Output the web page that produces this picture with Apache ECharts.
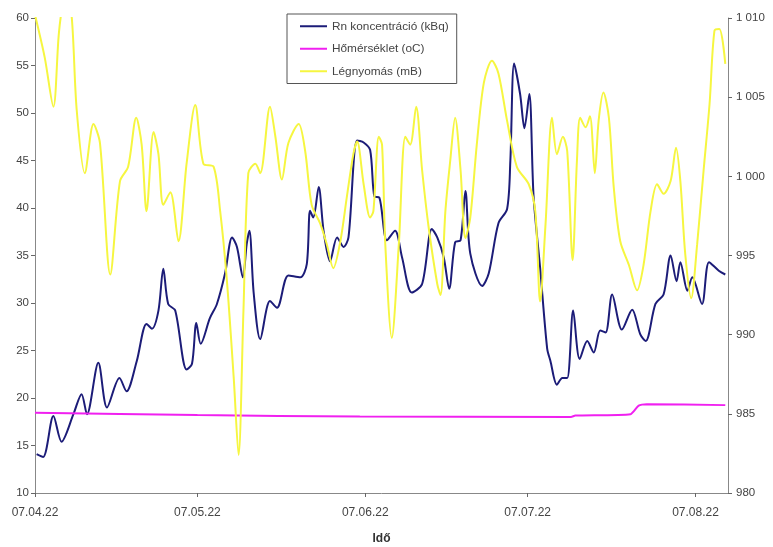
<!DOCTYPE html>
<html>
<head>
<meta charset="utf-8">
<script src="https://cdn.jsdelivr.net/npm/echarts@6.0.0/dist/echarts.min.js"></script>
<style>
  html, body { margin: 0; padding: 0; background: #fff; }
  #chart { width: 773px; height: 547px; }
</style>
</head>
<body>
<div id="chart"></div>
<script>
// x values are days counted from 2007.04.22
const tickDays = [0, 30, 61, 91, 122]
const tickLabels = ['07.04.22', '07.05.22', '07.06.22', '07.07.22', '07.08.22']

const rnDays = [0.3, 1.5, 3.4, 4.9, 7.1, 8.6, 9.6, 11.7, 13.3, 15.6, 16.9, 18.8, 20.6, 21.6, 22.8, 23.7, 24.6, 25.9, 28.0, 29.0,
  29.8, 30.6, 32.3, 33.6, 35.1, 36.4, 37.3, 38.4, 39.1, 39.6, 40.4, 41.6, 43.4, 44.7, 46.8, 49.0, 50.2, 50.8, 51.4, 52.4,
  53.3, 54.5, 55.8, 57.0, 57.9, 59.5, 60.7, 61.9, 62.7, 63.6, 65.0, 66.5, 67.8, 69.6, 71.5, 73.3, 74.3, 75.5, 76.5, 77.6,
  78.6, 79.5, 80.4, 82.6, 83.8, 85.6, 87.2, 87.8, 88.5, 89.6, 90.4, 91.3, 92.1, 93.3, 94.6, 95.2, 96.4, 97.4, 98.3, 99.4,
  100.6, 102.0, 103.2, 104.4, 105.4, 106.6, 108.4, 110.3, 111.8, 112.8, 114.6, 116.1, 117.4, 118.5, 119.2, 120.5, 121.4, 123.2, 124.5, 126.3,
  127.5]
const rnValues = [14.1, 13.8, 18.1, 15.4, 18.3, 20.4, 18.3, 23.7, 19.0, 22.1, 20.7, 23.9, 27.8, 27.3, 29.2, 33.6, 29.9, 29.2, 23.0, 23.6,
  27.9, 25.7, 28.4, 29.9, 33.1, 36.9, 35.9, 32.7, 36.2, 37.6, 31.0, 26.2, 30.2, 29.5, 32.9, 32.7, 34.1, 39.7, 39.0, 42.2,
  37.6, 34.4, 36.9, 35.9, 36.9, 47.1, 46.9, 46.1, 41.2, 41.1, 36.6, 37.6, 34.8, 31.1, 32.0, 37.8, 36.9, 34.8, 31.5, 36.4,
  36.6, 41.8, 35.2, 31.8, 33.1, 38.4, 39.9, 45.0, 55.2, 52.0, 48.4, 52.0, 41.1, 33.7, 25.2, 23.9, 21.4, 22.1, 22.1, 29.2,
  24.1, 26.0, 24.8, 27.1, 26.9, 30.9, 27.2, 29.3, 26.7, 26.0, 29.9, 30.9, 35.0, 32.3, 34.3, 31.3, 32.7, 29.9, 34.3, 33.4,
  33.0]

const tempDays = [0, 30, 60, 99, 99.8, 110, 111.5, 113, 127.5]
const tempValues = [18.45, 18.2, 18.05, 18.0, 18.15, 18.3, 19.2, 19.35, 19.25]

const pressDays = [0, 1.8, 3.4, 4.4, 5.2, 5.9, 6.8, 7.7, 9.2, 10.8, 12.0, 13.9, 15.7, 17.2, 18.7, 19.7, 20.6, 21.9, 22.8, 23.7,
  25.0, 26.5, 28.0, 29.6, 31.1, 33.0, 34.2, 35.4, 36.7, 37.6, 38.5, 39.4, 40.7, 41.6, 43.4, 44.4, 45.6, 46.8, 48.7, 49.9,
  51.1, 52.7, 53.9, 55.1, 56.4, 57.6, 58.8, 59.5, 60.7, 61.9, 62.5, 63.5, 64.1, 64.7, 65.9, 67.2, 68.4, 69.3, 70.4, 71.5,
  72.7, 74.3, 74.9, 75.8, 76.7, 77.6, 78.6, 79.5, 80.4, 81.6, 82.9, 84.4, 85.6, 87.2, 89.0, 91.2, 92.4, 93.3, 94.3, 95.5,
  96.4, 97.5, 98.3, 99.3, 100.1, 100.7, 101.7, 102.5, 103.4, 104.1, 105.0, 106.0, 106.9, 108.1, 109.7, 111.2, 112.4, 113.7, 114.9, 116.1,
  117.4, 118.4, 119.2, 120.1, 121.2, 122.3, 123.5, 124.6, 125.5, 126.4, 127.5]
const pressValues = [1010.2, 1007.5, 1004.4, 1009.0, 1011.0, 1011.5, 1010.0, 1004.2, 1000.2, 1003.3, 1002.1, 993.8, 999.7, 1000.6, 1003.7, 1002.0, 997.8, 1002.8, 1001.4, 998.2,
  999.0, 995.9, 1000.8, 1004.5, 1000.8, 1000.6, 997.8, 993.6, 987.3, 982.4, 991.5, 1000.2, 1000.8, 1000.2, 1004.4, 1002.5, 999.8, 1002.1, 1003.3, 1001.6,
  998.2, 997.0, 995.7, 994.2, 995.9, 998.7, 1001.4, 1002.2, 999.5, 997.4, 997.8, 1002.5, 1002.0, 995.7, 989.8, 995.7, 1002.5, 1002.0, 1004.4, 1000.4,
  996.8, 993.2, 992.5, 997.8, 1001.0, 1003.7, 1000.4, 996.1, 997.4, 1002.0, 1005.9, 1007.3, 1006.5, 1003.5, 1000.6, 999.5, 997.8, 992.1, 997.0, 1003.7,
  1001.4, 1002.5, 1001.6, 994.7, 1001.0, 1003.7, 1003.1, 1003.8, 1000.2, 1003.5, 1005.3, 1003.7, 999.3, 995.9, 994.4, 992.8, 994.4, 997.8, 999.5, 998.9,
  999.7, 1001.8, 999.7, 995.1, 992.3, 995.7, 1000.4, 1004.6, 1009.2, 1009.3, 1007.1]

const seriesNames = ['Rn koncentráció (kBq)', 'Hőmérséklet (oC)', 'Légnyomás (mB)']
const seriesColors = ['#1c1c78', '#f020f0', '#f6f640']

function pairs(days, values) {
  return days.map(function(d, i) { return [d, values[i]] })
}

const font = 'Arial, "Liberation Sans", sans-serif'

const myChart = echarts.init(document.getElementById('chart'), null, { renderer: 'canvas' })
const option = {
  animation: false,
  backgroundColor: '#fff',
  grid: { left: 35, right: 45, top: 18, bottom: 54, containLabel: false, outerBoundsMode: 'none' },
  legend: {
    orient: 'vertical',
    left: 287,
    top: 14,
    padding: [5, 8, 5, 13],
    itemGap: 8,
    itemWidth: 27,
    itemHeight: 2,
    icon: 'rect',
    borderColor: '#555',
    borderWidth: 1,
    backgroundColor: '#fff',
    textStyle: { color: '#444', fontSize: 11.8, fontFamily: font, lineHeight: 14.5 },
    data: seriesNames
  },
  xAxis: {
    type: 'value',
    min: 0,
    max: 128,
    name: 'Idő',
    nameLocation: 'middle',
    nameGap: 40,
    nameTextStyle: { color: '#333', fontSize: 12, fontWeight: 'bold', fontFamily: font },
    splitLine: { show: false },
    axisLine: { lineStyle: { color: '#888', width: 1 } },
    axisTick: { customValues: tickDays, length: 4, inside: false, lineStyle: { color: '#666' } },
    axisLabel: {
      customValues: tickDays,
      margin: 14,
      color: '#444',
      fontSize: 12,
      fontFamily: font,
      formatter: function(v) {
        const i = tickDays.indexOf(v)
        return i >= 0 ? tickLabels[i] : ''
      }
    }
  },
  yAxis: [
    {
      type: 'value',
      min: 10,
      max: 60,
      interval: 5,
      splitLine: { show: false },
      axisLine: { show: true, lineStyle: { color: '#888' } },
      axisTick: { show: true, length: 4, lineStyle: { color: '#666' } },
      axisLabel: { margin: 6, color: '#444', fontSize: 11.5, fontFamily: font }
    },
    {
      type: 'value',
      min: 980,
      max: 1010,
      interval: 5,
      position: 'right',
      splitLine: { show: false },
      axisLine: { show: true, lineStyle: { color: '#888' } },
      axisTick: { show: true, length: 4, lineStyle: { color: '#666' } },
      axisLabel: {
        margin: 8,
        color: '#444',
        fontSize: 11.5,
        fontFamily: font,
        formatter: function(v) {
          return v >= 1000 ? '1 ' + String(v).slice(1) : String(v)
        }
      }
    }
  ],
  series: [
    {
      name: seriesNames[0],
      type: 'line',
      yAxisIndex: 0,
      data: pairs(rnDays, rnValues),
      symbol: 'none',
      smooth: 0.3,
      clip: true,
      lineStyle: { color: seriesColors[0], width: 2 },
      itemStyle: { color: seriesColors[0] }
    },
    {
      name: seriesNames[1],
      type: 'line',
      yAxisIndex: 0,
      data: pairs(tempDays, tempValues),
      symbol: 'none',
      smooth: 0.2,
      clip: true,
      lineStyle: { color: seriesColors[1], width: 2 },
      itemStyle: { color: seriesColors[1] }
    },
    {
      name: seriesNames[2],
      type: 'line',
      yAxisIndex: 1,
      data: pairs(pressDays, pressValues),
      symbol: 'none',
      smooth: 0.3,
      clip: true,
      lineStyle: { color: seriesColors[2], width: 2 },
      itemStyle: { color: seriesColors[2] }
    }
  ]
}
myChart.setOption(option)
</script>
</body>
</html>
